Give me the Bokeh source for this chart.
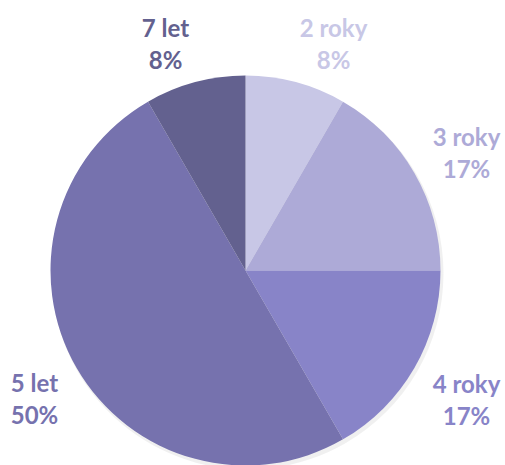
import math
from bokeh.plotting import figure
from bokeh.models import ColumnDataSource, Range1d
from bokeh.embed import file_html
from bokeh.resources import INLINE
from bokeh.core.properties import value

# ---- data ----
categories = ["2 roky", "3 roky", "4 roky", "5 let", "7 let"]
counts = [1, 2, 2, 6, 1]
colors = ["#c8c7e6", "#adaad7", "#8884c8", "#7672ae", "#63618f"]
label_colors = ["#c8c7e6", "#adaad7", "#8884c8", "#7672ae", "#63618f"]

total = sum(counts)
percents = [f"{round(100 * c / total)}%" for c in counts]

W, H = 505, 465
# layout (canvas pixel coords, y up)
cx, cy, R = 245, 195, 195
# label centre positions in window pixels (x, y of name line)
label_pos = [(333, 27), (466, 136), (466, 383), (34, 382), (165, 27)]
line_gap = 32

starts, ends = [], []
cum = 0.0
for c in counts:
    starts.append(math.pi / 2 - 2 * math.pi * cum / total)
    cum += c
    ends.append(math.pi / 2 - 2 * math.pi * cum / total)

src = ColumnDataSource(dict(start=starts, end=ends, color=colors, cat=categories))

p = figure(width=W, height=H, output_backend="svg", toolbar_location=None,
           x_range=Range1d(0, W), y_range=Range1d(0, H), min_border=0)
p.axis.visible = False
p.grid.visible = False
p.outline_line_color = None
p.background_fill_color = "white"
p.border_fill_color = "white"

# soft shadow
p.wedge(x=cx + 2, y=cy - 3, radius=R + 1, start_angle="start", end_angle="end",
        direction="clock", color="#000000", fill_alpha=0.06, line_alpha=0, source=src)
p.wedge(x=cx, y=cy, radius=R, start_angle="start", end_angle="end",
        direction="clock", fill_color="color", line_color=None, source=src)

lx = [pos[0] for pos in label_pos]
ly_name = [H - pos[1] for pos in label_pos]
ly_pct = [y - line_gap for y in ly_name]
lsrc = ColumnDataSource(dict(x=lx, yn=ly_name, yp=ly_pct, name=categories,
                             pct=percents, color=label_colors))

for ycol, tcol in (("yn", "name"), ("yp", "pct")):
    p.text(x="x", y=ycol, text=tcol, source=lsrc, text_color="color",
           text_font=value("Lato"), text_font_style="bold", text_font_size="24px",
           text_align="center", text_baseline="middle")

open("out.html", "w").write(file_html(p, INLINE))
